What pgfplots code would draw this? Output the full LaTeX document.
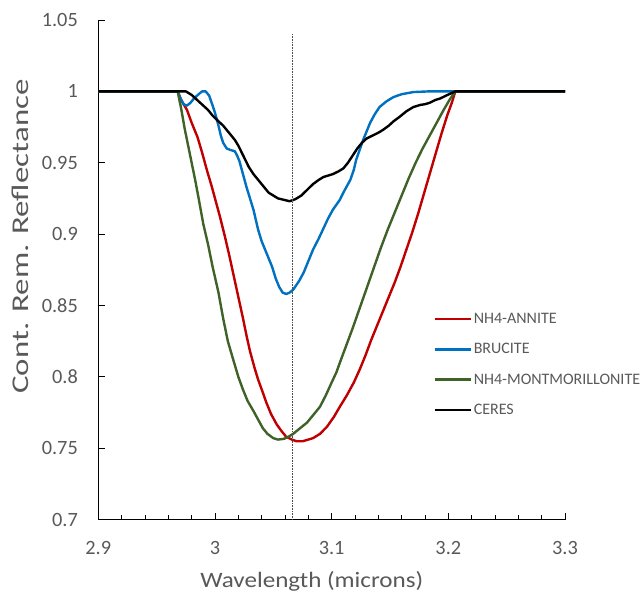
\documentclass[border=0pt]{standalone}
\usepackage{pgfplots}
\pgfplotsset{compat=1.18}
\usepackage{fontspec}
\setmainfont{Carlito}
\newfontfamily\xtitlefont[FakeStretch=1.14]{Carlito}
\newfontfamily\ytitlefont[FakeStretch=1.37]{Carlito}
\definecolor{txt}{HTML}{595959}
\definecolor{cred}{HTML}{C00000}
\definecolor{cblue}{HTML}{0070C0}
\definecolor{cgreen}{HTML}{3F6229}
\begin{document}
\begin{tikzpicture}
\begin{axis}[
  scale only axis, width=466.7pt, height=499.5pt,
  xmin=2.9, xmax=3.3, ymin=0.7, ymax=1.05,
  axis x line*=bottom, axis y line*=left,
  axis line style={black, line width=0.9pt},
  xtick={2.9,3.0,3.1,3.2,3.3}, xticklabels={2.9,3,3.1,3.2,3.3},
  minor xtick={2.92,2.94,2.96,2.98,3.02,3.04,3.06,3.08,3.12,3.14,3.16,3.18,3.22,3.24,3.26,3.28},
  ytick={0.7,0.75,0.8,0.85,0.9,0.95,1.0,1.05},
  yticklabels={0.7,0.75,0.8,0.85,0.9,0.95,1,1.05},
  tick align=inside,
  major tick length=6.5pt, minor tick length=4.5pt,
  every tick/.style={black, line width=0.8pt},
  ticklabel style={font=\fontsize{20.3pt}{24pt}\selectfont, text=txt},
  xticklabel style={anchor=north, inner sep=0pt, yshift=-21.5pt},
  yticklabel style={anchor=east, inner sep=0pt, xshift=-20.3pt},
  xlabel={Wavelength (microns)},
  xlabel style={at={(axis description cs:0.4575,-0.1357)}, anchor=base, inner sep=0pt, font=\xtitlefont\fontsize{22pt}{26pt}\selectfont, text=txt},
  ylabel={Cont. Rem. Reflectance},
  ylabel style={at={(axis description cs:-0.15,0.5666)}, anchor=base, inner sep=0pt, font=\ytitlefont\fontsize{24pt}{29pt}\selectfont, text=txt},
  legend style={at={(axis description cs:0.7175,0.413)}, anchor=north west, draw=none, fill=none, inner sep=0pt, row sep=18.3pt, column sep=2pt, font=\fontsize{16pt}{19pt}\selectfont, text=txt, nodes={inner sep=0pt}},
  legend cell align=left,
  legend image code/.code={\draw[#1] (0pt,0pt) -- (36pt,0pt);},
  every axis plot/.append style={line width=2.4pt, line join=round},
]
% NH4-ANNITE
\addplot[cred] coordinates {
(2.900,1) (2.968,1) (2.971,0.994) (2.976,0.987) (2.980,0.978) (2.985,0.968) (2.989,0.957) (2.993,0.945) (2.997,0.934) (3.000,0.925) (3.004,0.913) (3.008,0.900) (3.012,0.886) (3.016,0.871) (3.020,0.856) (3.024,0.841) (3.027,0.829) (3.030,0.818) (3.034,0.806) (3.037,0.798) (3.041,0.789) (3.044,0.782) (3.048,0.774) (3.053,0.7665) (3.057,0.762) (3.061,0.758) (3.066,0.756) (3.070,0.7548) (3.075,0.7548) (3.080,0.756) (3.084,0.757) (3.090,0.760) (3.096,0.765) (3.102,0.772) (3.107,0.779) (3.113,0.787) (3.119,0.796) (3.124,0.805) (3.129,0.815) (3.134,0.826) (3.139,0.836) (3.144,0.846) (3.149,0.856) (3.154,0.866) (3.159,0.877) (3.164,0.889) (3.169,0.901) (3.174,0.914) (3.179,0.928) (3.184,0.942) (3.189,0.956) (3.194,0.970) (3.199,0.983) (3.203,0.992) (3.206,1.0) (3.300,1)
};
\addlegendentry{NH4-ANNITE}
% BRUCITE
\addplot[cblue] coordinates {
(2.900,1) (2.968,1) (2.9705,0.995) (2.973,0.991) (2.976,0.990) (2.979,0.992) (2.982,0.995) (2.986,0.998) (2.989,1.0) (2.992,1.0) (2.995,0.997) (2.998,0.990) (3.000,0.985) (3.003,0.976) (3.005,0.969) (3.007,0.964) (3.010,0.960) (3.013,0.959) (3.017,0.958) (3.019,0.955) (3.021,0.951) (3.024,0.942) (3.027,0.933) (3.030,0.925) (3.033,0.917) (3.037,0.903) (3.040,0.895) (3.043,0.889) (3.046,0.883) (3.049,0.877) (3.052,0.869) (3.055,0.863) (3.058,0.859) (3.061,0.858) (3.064,0.859) (3.067,0.861) (3.072,0.867) (3.076,0.873) (3.080,0.881) (3.084,0.889) (3.089,0.897) (3.093,0.904) (3.097,0.911) (3.101,0.917) (3.107,0.924) (3.110,0.929) (3.116,0.938) (3.119,0.945) (3.121,0.952) (3.124,0.959) (3.127,0.966) (3.130,0.972) (3.133,0.978) (3.137,0.984) (3.141,0.989) (3.147,0.993) (3.153,0.996) (3.160,0.998) (3.170,0.9995) (3.184,1.0) (3.300,1)
};
\addlegendentry{BRUCITE}
% NH4-MONTMORILLONITE
\addplot[cgreen] coordinates {
(2.900,1) (2.968,1) (2.971,0.988) (2.974,0.974) (2.977,0.962) (2.980,0.950) (2.983,0.938) (2.986,0.925) (2.990,0.907) (2.994,0.893) (2.998,0.877) (3.003,0.859) (3.007,0.841) (3.011,0.825) (3.016,0.811) (3.020,0.800) (3.024,0.791) (3.028,0.783) (3.033,0.776) (3.037,0.770) (3.041,0.764) (3.045,0.760) (3.050,0.757) (3.054,0.756) (3.059,0.7565) (3.063,0.758) (3.067,0.760) (3.073,0.764) (3.079,0.768) (3.084,0.773) (3.090,0.779) (3.095,0.787) (3.100,0.796) (3.104,0.803) (3.108,0.812) (3.113,0.823) (3.118,0.834) (3.124,0.848) (3.130,0.862) (3.136,0.876) (3.142,0.890) (3.148,0.903) (3.154,0.915) (3.160,0.927) (3.166,0.939) (3.172,0.950) (3.178,0.960) (3.184,0.969) (3.190,0.978) (3.196,0.987) (3.201,0.994) (3.206,1.0) (3.300,1)
};
\addlegendentry{NH4-MONTMORILLONITE}
% CERES
\addplot[black] coordinates {
(2.900,1) (2.975,1) (2.980,0.9975) (2.986,0.993) (2.990,0.990) (2.994,0.987) (2.998,0.983) (3.003,0.979) (3.007,0.976) (3.011,0.972) (3.017,0.966) (3.020,0.962) (3.023,0.957) (3.026,0.952) (3.029,0.947) (3.033,0.942) (3.037,0.938) (3.041,0.934) (3.046,0.929) (3.050,0.927) (3.054,0.925) (3.059,0.924) (3.064,0.923) (3.069,0.9245) (3.074,0.927) (3.079,0.931) (3.084,0.935) (3.089,0.938) (3.093,0.940) (3.097,0.941) (3.101,0.942) (3.106,0.944) (3.110,0.946) (3.114,0.950) (3.118,0.955) (3.122,0.960) (3.126,0.964) (3.130,0.967) (3.135,0.969) (3.140,0.971) (3.144,0.973) (3.149,0.976) (3.153,0.979) (3.158,0.982) (3.164,0.986) (3.170,0.989) (3.176,0.9905) (3.180,0.991) (3.184,0.992) (3.189,0.994) (3.193,0.995) (3.198,0.997) (3.206,1.0) (3.300,1)
};
\addlegendentry{CERES}
% vertical marker
\addplot[black!70, line width=0.6pt, densely dotted, forget plot] coordinates {(3.066,0.7) (3.066,1.04)};
\end{axis}
\pgfresetboundingbox
\path (current axis.south west) ++(-98.3pt,-74.5pt) rectangle ++(644pt,594pt);
\end{tikzpicture}
\end{document}
